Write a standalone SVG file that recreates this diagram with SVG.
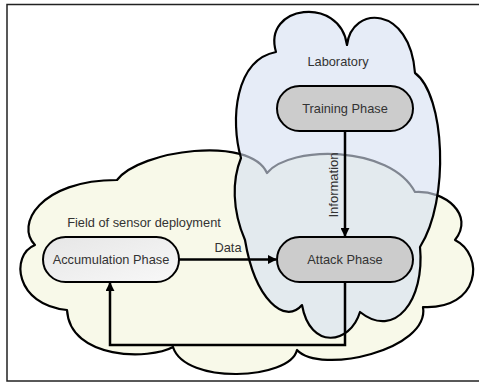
<svg xmlns="http://www.w3.org/2000/svg" width="479" height="383" viewBox="0 0 479 383">
<style>
.lbl{font-family:"Liberation Sans",Arial,sans-serif;font-size:12.8px;fill:#333;text-anchor:middle}
.pill{stroke:#000;stroke-width:2}
.conn{fill:none;stroke:#000;stroke-width:2.5}
.cloud{stroke:#000;stroke-width:2.2;stroke-linejoin:round}
</style>
<defs>
<marker id="arr" viewBox="0 0 10 10" refX="9" refY="5" markerWidth="3.6" markerHeight="3.6" orient="auto" markerUnits="strokeWidth">
<path d="M0,0 L10,5 L0,10 z" fill="#000"/>
</marker>
<linearGradient id="acc" x1="0" y1="0" x2="1" y2="1">
<stop offset="0" stop-color="#e6e6e6"/>
<stop offset="1" stop-color="#f8f8f8"/>
</linearGradient>
</defs>
<rect x="7" y="4.5" width="480" height="376.5" fill="#fff" stroke="#222" stroke-width="1.5"/>
<g id="field-cloud">
<path class="cloud" fill="#f8f9e9" d="M117,180 C140,150 250,135 267,173 C290,145 390,145 415,192 C445,190 475,215 455,240 C485,255 480,310 423,307 C430,350 320,375 297,350 C290,380 185,385 173,347 C150,360 70,360 67,310 C15,305 10,255 35,245 C15,225 40,180 117,180 Z"/>
</g>
<g id="laboratory-cloud">
<path class="cloud" fill="rgb(213,223,242)" fill-opacity="0.6" d="M276,52 C262,5 340,-5 347,45 C352,5 410,5 415,73 C445,95 450,200 420,247 C425,300 395,340 360,312 C350,345 310,350 302,305 C285,325 255,300 245,240 C232,210 232,180 241,158 C230,120 235,60 276,52 Z"/>
</g>
<text class="lbl" x="338" y="66">Laboratory</text>
<text class="lbl" x="144" y="226.5">Field of sensor deployment</text>
<g id="connectors">
<line class="conn" x1="345" y1="131" x2="345" y2="236" marker-end="url(#arr)"/>
<line class="conn" x1="179" y1="259.5" x2="276" y2="259.5" marker-end="url(#arr)"/>
<polyline class="conn" points="345,282 345,345 110,345 110,283" marker-end="url(#arr)"/>
<text class="lbl" x="228" y="251.5">Data</text>
<text class="lbl" style="font-size:13px" transform="translate(337.5,185) rotate(-90)">Information</text>
</g>
<g id="training-phase">
<rect class="pill" x="277" y="86" width="136" height="45" rx="22.5" fill="#cccccc"/>
<text class="lbl" x="345" y="113">Training Phase</text>
</g>
<g id="attack-phase">
<rect class="pill" x="277" y="237" width="136" height="45" rx="22.5" fill="#cccccc"/>
<text class="lbl" x="345" y="263.5">Attack Phase</text>
</g>
<g id="accumulation-phase">
<rect class="pill" x="43" y="237" width="136" height="45" rx="22.5" fill="url(#acc)"/>
<text class="lbl" x="111" y="263.5">Accumulation Phase</text>
</g>
</svg>
